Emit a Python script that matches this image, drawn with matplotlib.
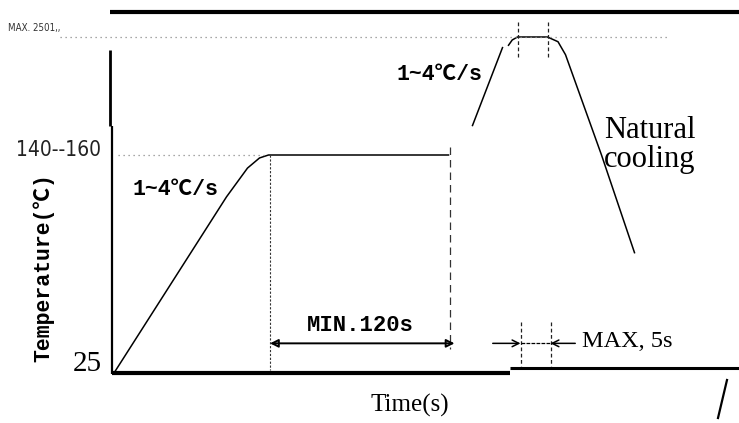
import numpy as np
import matplotlib
matplotlib.use("Agg")
import matplotlib.pyplot as plt

# ---------------- data (schematic reflow profile) ----------------
soak_time = [0, 75, 89, 97, 103, 223]
soak_temp = [25, 126, 142.5, 148.3, 150, 150]

ramp2_time = [239, 259]
ramp2_temp = [175, 241]

peak_time = [263, 265.5, 269, 289, 296, 301, 325, 347]
peak_temp = [243, 247.5, 250, 250, 246, 235, 150, 94]

base_temp = 25
soak_level = 150
peak_level = 250
soak_start, soak_end = 104, 227
soak_guard = 224
peak_start_top, peak_end_top = 269, 289
peak_start_bot, peak_end_bot = 271, 291

y_labels = ["25", "140--160", "MAX. 2501,,"]
rate_label = "1~4\u2103/s"
x_title = "Time(s)"
y_title = "Temperature(\u2103)"
min_label = "MIN.120s"
max_label = "MAX, 5s"
cool_label = "Natural\ncooling"

# ---------------- figure ----------------
W, H = 739, 423
fig = plt.figure(figsize=(W / 100, H / 100), dpi=100)
ax = fig.add_axes([0, 0, 1, 1])
ax.set_axis_off()

# schematic (piecewise-linear) temperature scale
def fwd(T):
    T = np.asarray(T, dtype=float)
    return np.where(T < 150, 50 + (T - 25) * 218 / 125, 268 + (T - 150) * 118 / 100)

def inv(u):
    u = np.asarray(u, dtype=float)
    return np.where(u < 268, 25 + (u - 50) * 125 / 218, 150 + (u - 268) * 100 / 118)

ax.set_yscale("function", functions=(fwd, inv))
ax.set_ylim(float(inv(0)), float(inv(H)))
ax.set_xlim(-114 / 1.5, (W - 114) / 1.5)

def fx(px):
    return px / W

def fy(py):
    return 1 - py / H

T = ax.transAxes
k = "black"
# frame lines
ax.plot([fx(110), fx(739)], [fy(12), fy(12)], color=k, lw=3.0, transform=T, solid_capstyle="butt")
ax.plot([fx(110), fx(110)], [fy(50), fy(126)], color=k, lw=2.0, transform=T, solid_capstyle="butt")
ax.plot([fx(112), fx(112)], [fy(126), fy(374)], color=k, lw=1.6, transform=T, solid_capstyle="butt")
ax.plot([fx(112), fx(510)], [fy(372.5), fy(372.5)], color=k, lw=3.0, transform=T, solid_capstyle="butt")
ax.plot([fx(510), fx(739)], [fy(368), fy(368)], color=k, lw=2.2, transform=T, solid_capstyle="butt")
ax.plot([fx(727), fx(718)], [fy(380), fy(418)], color=k, lw=1.6, transform=T)

# profile curves
lw = 1.1
ax.plot(soak_time, soak_temp, color=k, lw=lw)
ax.plot(ramp2_time, ramp2_temp, color=k, lw=lw)
ax.plot(peak_time, peak_temp, color=k, lw=lw)

# guide lines
dot = dict(color="#8a8a8a", lw=0.9, ls=(0, (1, 3)))
ax.plot([2.7, 100.7], [soak_level, soak_level], **dot)
ax.plot([-36, 369], [peak_level, peak_level], **dot)
ax.plot([soak_start, soak_start], [soak_level, base_temp + 2], color="#333", lw=0.8, ls=(0, (2, 1.5)))
ax.plot([soak_guard, soak_guard], [157, 39], color="#333", lw=0.9, ls=(0, (6, 4)))
dash = dict(color="#222", lw=0.9, ls=(0, (3, 2)))
ax.plot([peak_start_top] * 2, [263, 232], **dash)
ax.plot([peak_end_top] * 2, [263, 232], **dash)
ax.plot([peak_start_bot] * 2, [54, 29], **dash)
ax.plot([peak_end_bot] * 2, [54, 29], **dash)

# dimension arrows
arr_T = 42
ax.annotate("", xy=(soak_start, arr_T), xytext=(soak_end, arr_T),
            arrowprops=dict(arrowstyle="<|-|>", color=k, lw=1.4, shrinkA=0, shrinkB=0,
                            mutation_scale=12, fill=False))
ax.annotate("", xy=(peak_start_bot, arr_T), xytext=(peak_start_bot - 18.5, arr_T),
            arrowprops=dict(arrowstyle="->", color=k, lw=1.1, shrinkA=0, shrinkB=0, mutation_scale=12))
ax.annotate("", xy=(peak_end_bot, arr_T), xytext=(peak_end_bot + 16.5, arr_T),
            arrowprops=dict(arrowstyle="->", color=k, lw=1.1, shrinkA=0, shrinkB=0, mutation_scale=12))
ax.plot([peak_start_bot, peak_end_bot], [arr_T, arr_T], color=k, lw=0.9, ls=(0, (3, 1)))

# texts
mono = ["Liberation Mono", "DejaVu Sans Mono", "Noto Sans CJK JP"]
serif = ["Liberation Serif", "DejaVu Serif"]
narrow = ["DejaVu Sans", "Noto Sans"]

ax.text(fx(102), fy(364), y_labels[0], transform=T, ha="right", va="center",
        fontsize=21, family=serif)
ax.text(fx(101), fy(150), y_labels[1], transform=T, ha="right", va="center",
        fontsize=15, family=narrow, fontstretch="condensed", color="#222")
ax.text(fx(8), fy(28), y_labels[2], transform=T, ha="left", va="center",
        fontsize=7, family=narrow, fontstretch="condensed", color="#333")

ax.text(40.7, 130, rate_label, ha="center", va="center", fontsize=15.5,
        family=mono, fontweight="bold")
ax.text(217, 218, rate_label, ha="center", va="center", fontsize=15.5,
        family=mono, fontweight="bold")
ax.text(fx(44), fy(268), y_title, transform=T, rotation=90, ha="center", va="center",
        fontsize=15.5, family=mono, fontweight="bold")
ax.text((soak_start + soak_end) / 2 - 1, 52, min_label, ha="center", va="center",
        fontsize=16, family=mono, fontweight="bold")
ax.text(fx(582), fy(341), max_label, transform=T, ha="left", va="center",
        fontsize=17.5, family=serif)
ax.text(fx(410), fy(405), x_title, transform=T, ha="center", va="center",
        fontsize=18, family=serif)
ax.text(fx(604), fy(145), cool_label, transform=T, ha="left", va="center",
        fontsize=22, family=serif, linespacing=1.0)

fig.savefig("out.png", dpi=100)
